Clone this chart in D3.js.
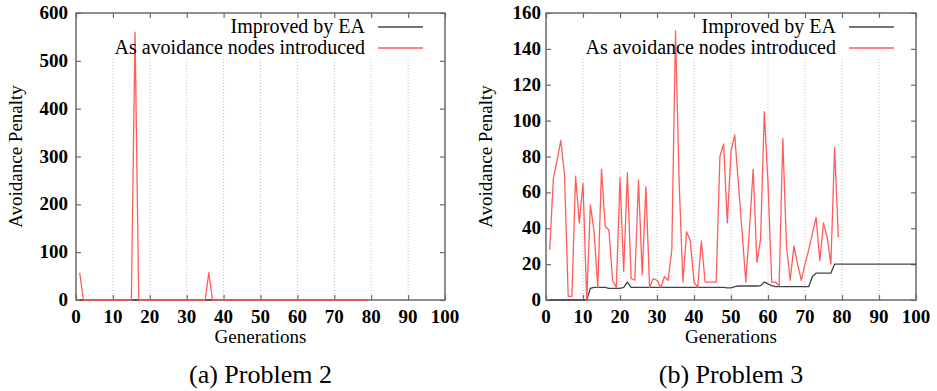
<!DOCTYPE html>
<html>
<head>
<meta charset="utf-8">
<script src="https://cdn.jsdelivr.net/npm/d3@7"></script>
</head>
<body style="margin:0">
<script>
// generations with data (the red series stops at 79 in both panels)
const gensShort = d3.range(1, 80);
const gensFull = d3.range(1, 101);

const xTicks = [0, 10, 20, 30, 40, 50, 60, 70, 80, 90, 100];
const yTicksA = [0, 100, 200, 300, 400, 500, 600];
const yTicksB = [0, 20, 40, 60, 80, 100, 120, 140, 160];

const legendLabels = ['Improved by EA', 'As avoidance nodes introduced'];
const captions = ['(a) Problem 2', '(b) Problem 3'];

// Problem 2
const improvedA = [
  0, 0, 0, 0, 0, 0, 0, 0, 0, 0, 0, 0, 0, 0, 0, 0, 0, 0, 0, 0,
  0, 0, 0, 0, 0, 0, 0, 0, 0, 0, 0, 0, 0, 0, 0, 0, 0, 0, 0, 0,
  0, 0, 0, 0, 0, 0, 0, 0, 0, 0, 0, 0, 0, 0, 0, 0, 0, 0, 0, 0,
  0, 0, 0, 0, 0, 0, 0, 0, 0, 0, 0, 0, 0, 0, 0, 0, 0, 0, 0
];
const introducedA = [
  57, 0, 0, 0, 0, 0, 0, 0, 0, 0, 0, 0, 0, 0, 0, 560, 0, 0, 0, 0,
  0, 0, 0, 0, 0, 0, 0, 0, 0, 0, 0, 0, 0, 0, 0, 57, 0, 0, 0, 0,
  0, 0, 0, 0, 0, 0, 0, 0, 0, 0, 0, 0, 0, 0, 0, 0, 0, 0, 0, 0,
  0, 0, 0, 0, 0, 0, 0, 0, 0, 0, 0, 0, 0, 0, 0, 0, 0, 0, 0
];

// Problem 3
const improvedB = [
  0, 0, 0, 0, 0, 0, 0, 0, 0, 0, 0, 6.5, 7, 7, 7, 7, 6.5, 6.5, 6.5, 6.5,
  7, 10, 7, 7, 7, 7, 7, 7, 7, 7, 7, 7, 7, 7, 7, 7, 7, 7, 7, 7,
  7, 7, 7, 7, 7, 7, 7, 7, 6.8, 6.8, 7.5, 7.8, 7.8, 7.8, 7.8, 7.8, 7.8, 8, 10, 9,
  8, 7.5, 7.5, 7.5, 7.5, 7.5, 7.5, 7.5, 7.5, 7.5, 7.5, 13, 15, 15, 15, 15, 15, 20, 20, 20,
  20, 20, 20, 20, 20, 20, 20, 20, 20, 20, 20, 20, 20, 20, 20, 20, 20, 20, 20, 20
];
const introducedB = [
  28, 68, 78, 89, 70, 2, 2, 69, 43, 65, 0, 53, 38, 7, 73, 41, 39, 11, 7, 68,
  16, 71, 12, 11, 67, 14, 63, 7, 12, 11, 7, 13, 11, 28, 150, 65, 10, 38, 33, 10,
  7, 33, 10, 10, 10, 10, 80, 87, 43, 83, 92, 65, 38, 10, 40, 73, 21, 34, 105, 65,
  10, 10, 8, 90, 30, 11, 30, 20, 11, 20, 28, 37, 46, 22, 43, 35, 20, 85, 35
];

const width = 937, height = 391;
const svg = d3.select('body').append('svg')
  .attr('width', width)
  .attr('height', height);

const panels = [
  { left: 76, right: 445, yMax: 600, yTicks: yTicksA, improved: improvedA, improvedGens: gensShort,
    introduced: introducedA, labelX: 22, pad: 8, caption: captions[0] },
  { left: 546, right: 916, yMax: 160, yTicks: yTicksB, improved: improvedB, improvedGens: gensFull,
    introduced: introducedB, labelX: 492, pad: 5, caption: captions[1] }
];

const plotTop = 13, plotBottom = 300, keyBottom = 58;
const axisColor = '#6a6a6a';
const redColor = '#ff5c5c';
const blackColor = '#444';

// every text label is collected here and drawn at the end, straight onto the svg
const labels = [];

panels.forEach(p => drawPanel(p));

svg.selectAll('text.lbl')
  .data(labels)
  .join('text')
  .attr('class', 'lbl')
  .attr('x', d => d.x)
  .attr('y', d => d.y)
  .attr('transform', d => d.rotate ? `rotate(-90,${d.x},${d.y})` : null)
  .attr('text-anchor', d => d.anchor)
  .attr('font-size', d => d.size)
  .attr('font-weight', d => d.bold ? 'bold' : 'normal')
  .style('font-family', d => '"Liberation Serif"')
  .text(d => d.text);

function drawPanel(p) {
  const x = d3.scaleLinear().domain([0, 100]).range([p.left, p.right]);
  const y = d3.scaleLinear().domain([0, p.yMax]).range([plotBottom, plotTop]);
  const g = svg.append('g');

  // vertical dotted grid, interrupted by the key
  g.append('g')
    .selectAll('line')
    .data(xTicks.slice(1, -1))
    .join('line')
    .attr('x1', d => x(d)).attr('x2', d => x(d))
    .attr('y1', plotBottom).attr('y2', keyBottom)
    .attr('stroke', '#bdbdbd')
    .attr('stroke-width', 1)
    .attr('stroke-dasharray', '1,2');

  const styleAxis = sel => {
    sel.select('.domain').remove();
    sel.selectAll('.tick text').remove();
    sel.selectAll('.tick line').attr('stroke', axisColor).attr('stroke-width', 1.2);
  };

  // tick marks point inward on all four sides
  g.append('g')
    .attr('transform', `translate(0,${plotBottom})`)
    .call(d3.axisBottom(x).tickValues(xTicks).tickSize(-5))
    .call(styleAxis);
  g.append('g')
    .attr('transform', `translate(0,${plotTop})`)
    .call(d3.axisTop(x).tickValues(xTicks).tickSize(-5))
    .call(styleAxis);
  g.append('g')
    .attr('transform', `translate(${p.left},0)`)
    .call(d3.axisLeft(y).tickValues(p.yTicks).tickSize(-5))
    .call(styleAxis);
  g.append('g')
    .attr('transform', `translate(${p.right},0)`)
    .call(d3.axisRight(y).tickValues(p.yTicks).tickSize(-5))
    .call(styleAxis);

  // tick labels, placed with the same scales
  xTicks.forEach(t => labels.push({ text: String(t), x: x(t), y: plotBottom + 23, anchor: 'middle', size: 19, bold: true }));
  p.yTicks.forEach(t => labels.push({ text: String(t), x: p.left - p.pad, y: y(t) + 6, anchor: 'end', size: 19, bold: true }));

  // frame
  g.append('rect')
    .attr('x', p.left).attr('y', plotTop)
    .attr('width', p.right - p.left).attr('height', plotBottom - plotTop)
    .attr('fill', 'none')
    .attr('stroke', axisColor)
    .attr('stroke-width', 1.5);

  const line = d3.line()
    .x(d => x(d[0]))
    .y(d => y(d[1]));

  g.append('path')
    .datum(p.improvedGens.map((gen, i) => [gen, p.improved[i]]))
    .attr('fill', 'none')
    .attr('stroke', blackColor)
    .attr('stroke-width', 1.3)
    .attr('d', line);

  g.append('path')
    .datum(gensShort.map((gen, i) => [gen, p.introduced[i]]))
    .attr('fill', 'none')
    .attr('stroke', redColor)
    .attr('stroke-width', 1.3)
    .attr('stroke-linejoin', 'round')
    .attr('d', line);

  // key
  const keyColors = [blackColor, redColor];
  const keyY = [27, 48];
  legendLabels.forEach((label, i) => {
    labels.push({ text: label, x: p.right - 80, y: keyY[i] + 6, anchor: 'end', size: 20 });
    g.append('line')
      .attr('x1', p.right - 67).attr('x2', p.right - 22)
      .attr('y1', keyY[i]).attr('y2', keyY[i])
      .attr('stroke', keyColors[i])
      .attr('stroke-width', 1.3);
  });

  // axis titles and caption
  const cx = (p.left + p.right) / 2;
  labels.push({ text: 'Generations', x: cx, y: 343, anchor: 'middle', size: 19 });
  labels.push({ text: 'Avoidance Penalty', x: p.labelX, y: (plotTop + plotBottom) / 2, anchor: 'middle', size: 19, rotate: true });
  labels.push({ text: p.caption, x: cx, y: 383, anchor: 'middle', size: 26 });
}
</script>
</body>
</html>
